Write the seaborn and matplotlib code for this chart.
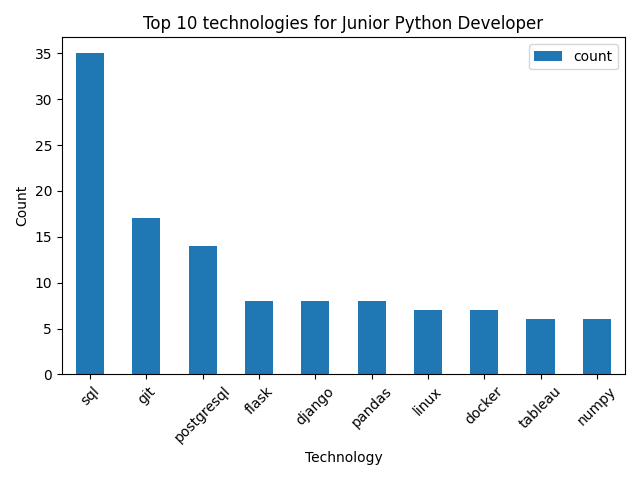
import matplotlib
matplotlib.use("Agg")
import matplotlib.pyplot as plt
import seaborn as sns
import pandas as pd

technologies = ["sql", "git", "postgresql", "flask", "django", "pandas", "linux", "docker", "tableau", "numpy"]
counts = [35, 17, 14, 8, 8, 8, 7, 7, 6, 6]

df = pd.DataFrame({"Technology": technologies, "count": counts})

fig, ax = plt.subplots(figsize=(6.4, 4.8), dpi=100)
sns.barplot(data=df, x="Technology", y="count", color="#1f77b4", saturation=1,
            width=0.5, label="count", ax=ax)
ax.set_title("Top 10 technologies for Junior Python Developer")
ax.set_xlabel("Technology")
ax.set_ylabel("Count")
ax.tick_params(axis="x", rotation=45)
ax.legend(loc="upper right")
fig.tight_layout()
fig.savefig("out.png", dpi=100)
